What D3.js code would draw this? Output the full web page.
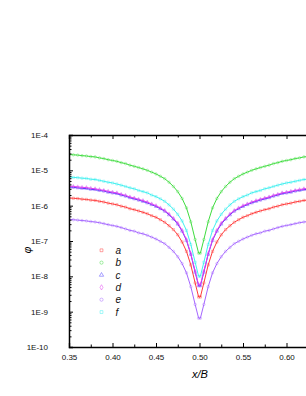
<!DOCTYPE html>
<html lang="en">
<head>
<meta charset="UTF-8">
<title>phi vs x/B</title>
<script src="https://cdn.jsdelivr.net/npm/d3@7/dist/d3.min.js"></script>
<style>
    body { margin: 0; background: #fff; }
    svg { display: block; font-family: "Liberation Sans", Arial, sans-serif; }
</style>
</head>
<body>
<svg width="306" height="396"></svg>

<script>
    // x/B sample positions
    var xs = [0.35,0.355,0.36,0.365,0.37,0.375,0.38,0.385,0.39,0.395,0.40,0.405,0.41,0.415,0.42,0.425,
              0.43,0.435,0.44,0.445,0.45,0.455,0.46,0.465,0.47,0.475,0.48,0.485,0.49,0.495,0.499,
              0.501,0.505,0.51,0.515,0.52,0.525,0.53,0.535,0.54,0.545,0.55,0.555,0.56,0.565,0.57,
              0.575,0.58,0.585,0.59,0.595,0.60,0.605,0.61,0.615,0.62,0.625,0.63,0.635,0.64,0.645,0.65];

    var phiA = [1.65e-6,1.62e-6,1.59e-6,1.53e-6,1.5e-6,1.44e-6,1.41e-6,1.33e-6,1.27e-6,1.18e-6,1.12e-6,1.06e-6,9.7e-7,9.1e-7,8.2e-7,7.7e-7,
                7.1e-7,6.5e-7,5.9e-7,5.2e-7,4.7e-7,4.0e-7,3.4e-7,2.7e-7,2.1e-7,1.5e-7,9.4e-8,5.1e-8,2.1e-8,6.5e-9,2.6e-9,
                2.6e-9,6.5e-9,2.1e-8,5.1e-8,9.4e-8,1.5e-7,2.1e-7,2.7e-7,3.4e-7,4.0e-7,4.7e-7,5.2e-7,5.9e-7,6.5e-7,7.1e-7,
                7.7e-7,8.2e-7,9.1e-7,9.7e-7,1.06e-6,1.12e-6,1.18e-6,1.27e-6,1.33e-6,1.41e-6,1.44e-6,1.5e-6,1.53e-6,1.59e-6,1.62e-6,1.65e-6];
    var phiB = [2.8e-5,2.75e-5,2.7e-5,2.6e-5,2.55e-5,2.45e-5,2.4e-5,2.25e-5,2.15e-5,2.0e-5,1.9e-5,1.8e-5,1.65e-5,1.55e-5,1.4e-5,1.3e-5,
                1.2e-5,1.1e-5,1.0e-5,8.9e-6,7.9e-6,6.8e-6,5.8e-6,4.6e-6,3.5e-6,2.5e-6,1.6e-6,8.7e-7,3.5e-7,1.1e-7,4.5e-8,
                4.5e-8,1.1e-7,3.5e-7,8.7e-7,1.6e-6,2.5e-6,3.5e-6,4.6e-6,5.8e-6,6.8e-6,7.9e-6,8.9e-6,1.0e-5,1.1e-5,1.2e-5,
                1.3e-5,1.4e-5,1.55e-5,1.65e-5,1.8e-5,1.9e-5,2.0e-5,2.15e-5,2.25e-5,2.4e-5,2.45e-5,2.55e-5,2.6e-5,2.7e-5,2.75e-5,2.8e-5];
    var phiC = [3.4e-6,3.3e-6,3.2e-6,3.1e-6,3.05e-6,2.9e-6,2.85e-6,2.7e-6,2.6e-6,2.4e-6,2.3e-6,2.2e-6,2.0e-6,1.86e-6,1.68e-6,1.56e-6,
                1.44e-6,1.32e-6,1.2e-6,1.07e-6,9.5e-7,8.2e-7,7.0e-7,5.5e-7,4.2e-7,3.0e-7,1.9e-7,1.04e-7,4.2e-8,1.3e-8,5.4e-9,
                5.4e-9,1.3e-8,4.2e-8,1.04e-7,1.9e-7,3.0e-7,4.2e-7,5.5e-7,7.0e-7,8.2e-7,9.5e-7,1.07e-6,1.2e-6,1.32e-6,1.44e-6,
                1.56e-6,1.68e-6,1.86e-6,2.0e-6,2.2e-6,2.3e-6,2.4e-6,2.6e-6,2.7e-6,2.85e-6,2.9e-6,3.05e-6,3.1e-6,3.2e-6,3.3e-6,3.4e-6];
    var phiD = [3.55e-6,3.5e-6,3.4e-6,3.3e-6,3.25e-6,3.1e-6,3.0e-6,2.85e-6,2.7e-6,2.55e-6,2.4e-6,2.3e-6,2.1e-6,1.95e-6,1.76e-6,1.64e-6,
                1.51e-6,1.39e-6,1.26e-6,1.12e-6,1.0e-6,8.6e-7,7.3e-7,5.8e-7,4.4e-7,3.2e-7,2.0e-7,1.1e-7,4.4e-8,1.4e-8,5.7e-9,
                5.7e-9,1.4e-8,4.4e-8,1.1e-7,2.0e-7,3.2e-7,4.4e-7,5.8e-7,7.3e-7,8.6e-7,1.0e-6,1.12e-6,1.26e-6,1.39e-6,1.51e-6,
                1.64e-6,1.76e-6,1.95e-6,2.1e-6,2.3e-6,2.4e-6,2.55e-6,2.7e-6,2.85e-6,3.0e-6,3.1e-6,3.25e-6,3.3e-6,3.4e-6,3.5e-6,3.55e-6];
    var phiE = [4.1e-7,4.0e-7,3.9e-7,3.8e-7,3.7e-7,3.55e-7,3.45e-7,3.3e-7,3.1e-7,2.9e-7,2.75e-7,2.6e-7,2.4e-7,2.2e-7,2.0e-7,1.9e-7,
                1.7e-7,1.6e-7,1.45e-7,1.29e-7,1.14e-7,9.8e-8,8.4e-8,6.6e-8,5.1e-8,3.6e-8,2.3e-8,1.26e-8,5.1e-9,1.6e-9,6.5e-10,
                6.5e-10,1.6e-9,5.1e-9,1.26e-8,2.3e-8,3.6e-8,5.1e-8,6.6e-8,8.4e-8,9.8e-8,1.14e-7,1.29e-7,1.45e-7,1.6e-7,1.7e-7,
                1.9e-7,2.0e-7,2.2e-7,2.4e-7,2.6e-7,2.75e-7,2.9e-7,3.1e-7,3.3e-7,3.45e-7,3.55e-7,3.7e-7,3.8e-7,3.9e-7,4.0e-7,4.1e-7];
    var phiF = [6.5e-6,6.3e-6,6.2e-6,6.0e-6,5.9e-6,5.6e-6,5.5e-6,5.2e-6,4.9e-6,4.6e-6,4.4e-6,4.1e-6,3.8e-6,3.5e-6,3.2e-6,3.0e-6,
                2.7e-6,2.5e-6,2.3e-6,2.0e-6,1.8e-6,1.56e-6,1.33e-6,1.05e-6,8.0e-7,5.7e-7,3.7e-7,2.0e-7,8.0e-8,2.5e-8,1.0e-8,
                1.0e-8,2.5e-8,8.0e-8,2.0e-7,3.7e-7,5.7e-7,8.0e-7,1.05e-6,1.33e-6,1.56e-6,1.8e-6,2.0e-6,2.3e-6,2.5e-6,2.7e-6,
                3.0e-6,3.2e-6,3.5e-6,3.8e-6,4.1e-6,4.4e-6,4.6e-6,4.9e-6,5.2e-6,5.5e-6,5.6e-6,5.9e-6,6.0e-6,6.2e-6,6.3e-6,6.5e-6];

    var seriesNames = ["a", "b", "c", "d", "e", "f"];
    var xTicks = [0.35, 0.40, 0.45, 0.50, 0.55, 0.60];
    var xMinor = [0.375, 0.425, 0.475, 0.525, 0.575, 0.625];
    var yTicks = [1e-10, 1e-9, 1e-8, 1e-7, 1e-6, 1e-5, 1e-4];
    var yTickLabels = ["1E-10", "1E-9", "1E-8", "1E-7", "1E-6", "1E-5", "1E-4"];

    var colors = ["#ff3b3b", "#3fdc3f", "#4a3cff", "#e43cf0", "#a566ff", "#3ff0f0"];
    var symbols = [d3.symbolSquare, d3.symbolCircle, d3.symbolTriangle, d3.symbolDiamond, d3.symbolCircle, d3.symbolSquare];
    var allValues = [phiA, phiB, phiC, phiD, phiE, phiF];

    var series = seriesNames.map(function(n, i) {
        return { name: n, values: allValues[i], color: colors[i], symbol: symbols[i] };
    });

    var svg = d3.select("svg");
    var pLeft = 69, pRight = 330, pTop = 135, pBottom = 347;

    var x = d3.scaleLinear().domain([0.35, 0.65]).range([pLeft, pRight]);
    var y = d3.scaleLog().domain([1e-10, 1e-4]).range([pBottom, pTop]);

    svg.append("clipPath").attr("id", "plot")
        .append("rect").attr("x", pLeft).attr("y", pTop)
        .attr("width", pRight - pLeft).attr("height", pBottom - pTop);

    var line = d3.line()
        .x(function(d) { return x(d[0]); })
        .y(function(d) { return y(d[1]); });

    var curves = svg.append("g").attr("clip-path", "url(#plot)");

    // lines with a small open symbol at every point
    series.forEach(function(s) {
        var pts = xs.map(function(v, i) { return [v, s.values[i]]; });
        var g = curves.append("g");
        g.append("path")
            .attr("d", line(pts))
            .attr("fill", "none")
            .attr("stroke", s.color)
            .attr("stroke-width", 1);
        g.selectAll("path.pt")
            .data(pts)
            .enter()
            .append("path")
            .attr("class", "pt")
            .attr("d", d3.symbol().type(s.symbol).size(5))
            .attr("transform", function(d) { return "translate(" + x(d[0]) + "," + y(d[1]) + ")"; })
            .attr("fill", "none")
            .attr("stroke", s.color)
            .attr("stroke-width", 0.5)
            .attr("opacity", 0.7);
    });

    // minor y ticks at 2..9 of each decade
    var yMinor = [];
    yTicks.slice(0, -1).forEach(function(v) {
        for (var k = 2; k < 10; k++) yMinor.push(v * k);
    });

    // bottom axis
    svg.append("g")
        .attr("transform", "translate(0," + pBottom + ")")
        .call(d3.axisBottom(x).tickValues(xTicks).tickSize(-4).tickPadding(7)
            .tickFormat(d3.format(".2f")))
        .call(function(g) {
            g.select(".domain").attr("stroke-width", 1.3);
            g.selectAll("text").attr("font-size", "8px").attr("fill", "#111");
        });
    svg.append("g")
        .attr("transform", "translate(0," + pBottom + ")")
        .call(d3.axisBottom(x).tickValues(xMinor).tickSize(-2.5).tickFormat(""))
        .call(function(g) { g.select(".domain").remove(); });

    // top axis (mirror ticks)
    svg.append("g")
        .attr("transform", "translate(0," + pTop + ")")
        .call(d3.axisTop(x).tickValues(xTicks).tickSize(-4).tickFormat(""))
        .call(function(g) { g.select(".domain").attr("stroke-width", 1.3); });
    svg.append("g")
        .attr("transform", "translate(0," + pTop + ")")
        .call(d3.axisTop(x).tickValues(xMinor).tickSize(-2.5).tickFormat(""))
        .call(function(g) { g.select(".domain").remove(); });

    // left axis
    svg.append("g")
        .attr("transform", "translate(" + pLeft + ",0)")
        .call(d3.axisLeft(y).tickValues(yTicks).tickSize(-4).tickPadding(21)
            .tickFormat(function(d, i) { return yTickLabels[i]; }))
        .call(function(g) {
            g.select(".domain").attr("stroke-width", 1.5);
            g.selectAll("text").attr("font-size", "8px").attr("fill", "#111");
        });
    svg.append("g")
        .attr("transform", "translate(" + pLeft + ",0)")
        .call(d3.axisLeft(y).tickValues(yMinor).tickSize(-2.5).tickFormat(""))
        .call(function(g) { g.select(".domain").remove(); });

    // axis titles
    svg.append("text")
        .attr("x", 200).attr("y", 378)
        .attr("text-anchor", "middle")
        .attr("font-size", "11px")
        .attr("font-style", "italic")
        .text("x/B");
    svg.append("text")
        .attr("transform", "translate(31,250) rotate(-90)")
        .attr("text-anchor", "middle")
        .attr("font-size", "10px")
        .attr("font-style", "italic")
        .text("φ");

    // legend
    var legend = svg.append("g").selectAll("g")
        .data(series)
        .enter()
        .append("g")
        .attr("transform", function(d, i) { return "translate(101.5," + (250.3 + i * 12.35) + ")"; });
    legend.append("path")
        .attr("d", function(d) { return d3.symbol().type(d.symbol).size(8)(); })
        .attr("fill", "none")
        .attr("stroke", function(d) { return d.color; })
        .attr("stroke-width", 0.6)
        .attr("opacity", 0.8);
    legend.append("text")
        .attr("x", 14).attr("y", 3.5)
        .attr("font-size", "10px")
        .attr("font-style", "italic")
        .attr("fill", "#111")
        .text(function(d) { return d.name; });
</script>
</body>
</html>
